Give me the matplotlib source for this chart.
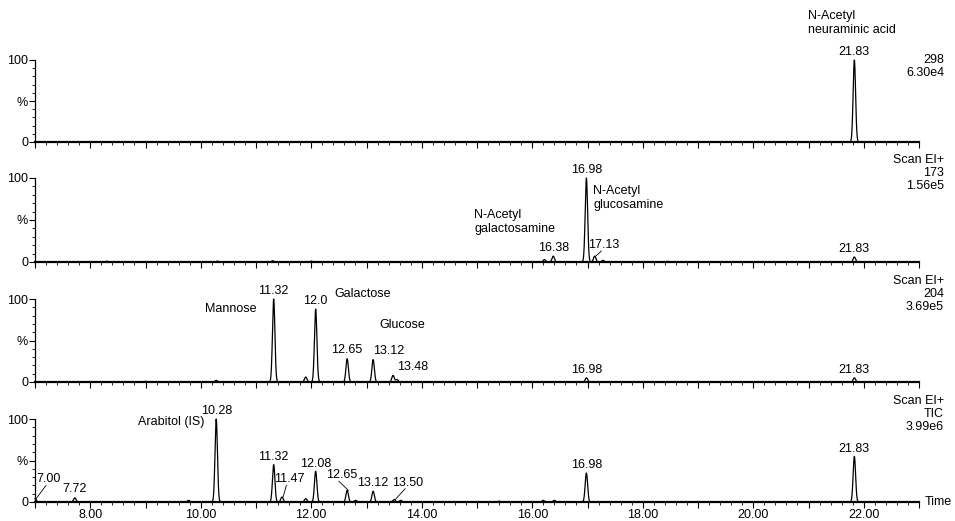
import numpy as np
import matplotlib
matplotlib.use("Agg")
import matplotlib.pyplot as plt
from matplotlib.ticker import MultipleLocator, FixedLocator

plt.rcParams['font.family'] = ['Liberation Sans', 'DejaVu Sans']

# peaks per trace: (retention time, relative height %)
p1_rt = [21.83]
p1_h = [100]
p2_rt = [8.3, 10.3, 11.3, 12.0, 16.22, 16.38, 16.98, 17.13, 17.28, 18.45, 21.83]
p2_h = [1, 1, 1.5, 1, 3, 7, 100, 7, 2, 0.8, 6]
p3_rt = [9.0, 10.28, 11.32, 11.9, 12.08, 12.65, 13.12, 13.48, 13.55, 16.98, 21.83]
p3_h = [0.8, 2, 100, 6, 88, 28, 27, 8, 3, 5, 5]
p4_rt = [7.0, 7.72, 9.78, 10.28, 11.32, 11.47, 11.9, 12.08, 12.65, 12.8, 13.12, 13.50, 13.62, 15.4, 16.2, 16.4, 16.98, 21.83]
p4_h = [4, 5, 2, 100, 45, 6, 4, 37, 14, 2, 13, 3, 2, 1, 2, 2, 35, 55]

right_texts = [["298", "6.30e4"], ["Scan EI+", "173", "1.56e5"],
               ["Scan EI+", "204", "3.69e5"], ["Scan EI+", "TIC", "3.99e6"]]

labels1 = [("21.83", 21.83, 102, "center", None),
           ("N-Acetyl\nneuraminic acid", 20.99, 129, "left", None)]
labels2 = [("16.98", 16.98, 102, "center", None),
           ("N-Acetyl\nglucosamine", 17.1, 61, "left", None),
           ("N-Acetyl\ngalactosamine", 14.95, 32, "left", None),
           ("16.38", 16.38, 9, "center", None),
           ("17.13", 17.3, 13, "center", (17.13, 7)),
           ("21.83", 21.83, 8, "center", None)]
labels3 = [("11.32", 11.32, 102, "center", None),
           ("12.0", 12.08, 90, "center", None),
           ("Galactose", 12.41, 99, "left", None),
           ("Mannose", 10.08, 81, "left", None),
           ("Glucose", 13.23, 61, "left", None),
           ("12.65", 12.65, 31, "center", None),
           ("13.12", 13.12, 30, "left", None),
           ("13.48", 13.55, 11, "left", None),
           ("16.98", 16.98, 7, "center", None),
           ("21.83", 21.83, 7, "center", None)]
labels4 = [("10.28", 10.28, 102, "center", None),
           ("Arabitol (IS)", 8.86, 89, "left", None),
           ("11.32", 11.32, 47, "center", None),
           ("11.47", 11.6, 20, "center", (11.47, 6)),
           ("12.08", 12.08, 39, "center", None),
           ("12.65", 12.55, 25, "center", (12.65, 14)),
           ("13.12", 13.12, 16, "center", None),
           ("13.50", 13.75, 16, "center", (13.50, 3)),
           ("16.98", 16.98, 37, "center", None),
           ("21.83", 21.83, 57, "center", None),
           ("7.72", 7.72, 8, "center", None),
           ("7.00", 7.25, 20, "center", (7.0, 4))]

x = np.linspace(7, 23, 6000)
sigma = 0.022

fig = plt.figure(figsize=(9.55, 5.21), dpi=100)
W, H = 955, 521
x0, x1 = 35, 919
panels = [(60, 142), (178, 262), (299, 382), (419, 502)]
data = [(p1_rt, p1_h, labels1), (p2_rt, p2_h, labels2), (p3_rt, p3_h, labels3), (p4_rt, p4_h, labels4)]
fs = 9

for i, ((ytop, ybot), (rts, hs, labs)) in enumerate(zip(panels, data)):
    ax = fig.add_axes([x0 / W, 1 - ybot / H, (x1 - x0) / W, (ybot - ytop) / H])
    y = np.zeros_like(x)
    for r, h in zip(rts, hs):
        y += h * np.exp(-0.5 * ((x - r) / sigma) ** 2)
    ax.plot(x, y, color='black', lw=0.9, clip_on=False)
    ax.set_xlim(7, 23)
    ax.set_ylim(0, 100)
    for sp in ['top', 'right']:
        ax.spines[sp].set_visible(False)
    ax.spines['bottom'].set_linewidth(1.6)
    ax.spines['left'].set_linewidth(0.9)
    ax.xaxis.set_major_locator(MultipleLocator(1))
    ax.xaxis.set_minor_locator(MultipleLocator(0.2))
    ax.yaxis.set_major_locator(FixedLocator([0, 50, 100]))
    ax.yaxis.set_minor_locator(MultipleLocator(10))
    ax.set_yticklabels(["0", "%", "100"])
    ax.tick_params(axis='y', labelsize=fs, length=4, width=0.8, pad=1)
    ax.tick_params(axis='y', which='minor', length=2, width=0.6)
    ax.tick_params(axis='x', length=4, width=0.8, labelsize=fs, pad=1)
    ax.tick_params(axis='x', which='minor', length=2.5, width=0.6)
    if i < 3:
        ax.tick_params(axis='x', labelbottom=False)
    else:
        ax.set_xticks(np.arange(7, 24, 1))
        ax.set_xticklabels(["" if (t % 2) else f"{t:.2f}" for t in np.arange(7, 24, 1)])
        ax.text(23.1, 0, "Time", fontsize=fs, va='center', ha='left')
    rt = right_texts[i]
    if len(rt) == 3:
        ys = [ytop - 18, ytop - 5, ytop + 8]
    else:
        ys = [ytop, ytop + 13]
    for t, yy in zip(rt, ys):
        fig.text(944 / W, 1 - yy / H, t, ha='right', va='center', fontsize=fs)
    for (t, lx, ly, ha, lead) in labs:
        ax.text(lx, ly, t, ha=ha, va='bottom', fontsize=fs, clip_on=False)
        if lead is not None:
            ax.plot([lead[0] + 0.02, lx - 0.05], [lead[1], ly], color='black', lw=0.6, clip_on=False)

fig.savefig("out.png", dpi=100)
